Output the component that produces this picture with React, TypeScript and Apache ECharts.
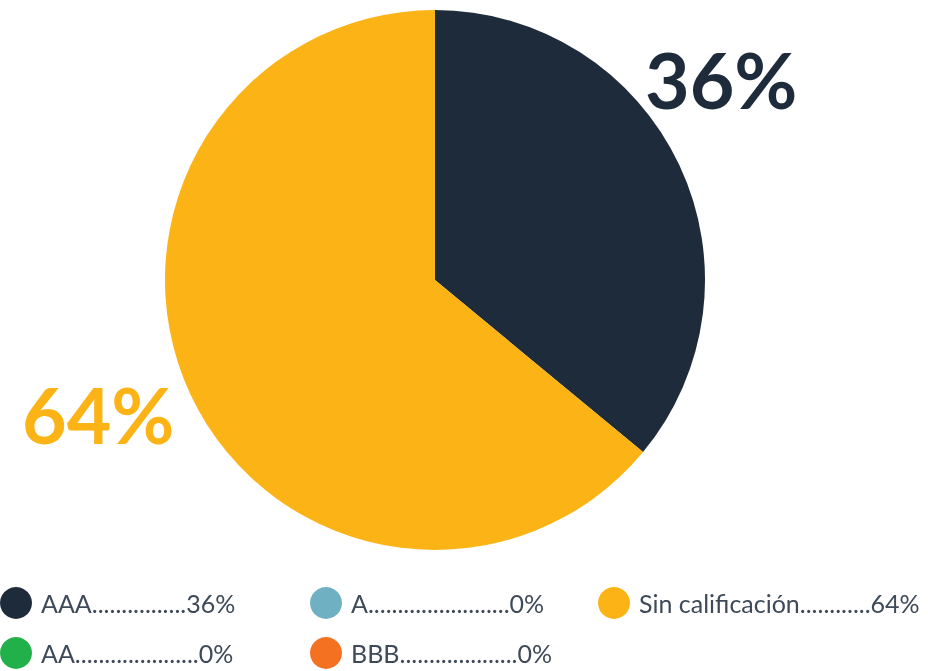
import React, { useEffect, useRef } from "react";
import * as echarts from "echarts";

const categories = ["AAA", "AA", "A", "BBB", "Sin calificación"];
const values = [36, 0, 0, 0, 64];
const colors = ["#1d2b3b", "#22b04b", "#6fb1c2", "#f37121", "#fbb316"];
const dotCounts = [16, 21, 24, 20, 12];
const legendColumns = [
  ["AAA", "AA"],
  ["A", "BBB"],
  ["Sin calificación"],
];
const legendLefts = [0, 310, 598];

export default function App() {
  const ref = useRef<HTMLDivElement>(null);
  useEffect(() => {
    if (!ref.current) return;
    const chart = echarts.init(ref.current, undefined, { renderer: "svg" });
    const fmt = (name: string) => {
      const i = categories.indexOf(name);
      return name + ".".repeat(dotCounts[i]) + values[i] + "%";
    };
    const bigLabel = (i: number) => values[i] + "%";
    chart.setOption({
      animation: false,
      color: colors,
      legend: legendColumns.map((col, k) => ({
        data: col,
        orient: "vertical",
        left: legendLefts[k],
        top: 587,
        padding: 0,
        itemWidth: 32,
        itemHeight: 32,
        itemGap: 18,
        icon: "circle",
        selectedMode: false,
        formatter: fmt,
        textStyle: {
          fontFamily: "Lato",
          fontSize: 25,
          color: "#3e4a59",
          padding: [0, 0, 0, 4],
        },
      })),
      graphic: [
        {
          type: "text",
          left: 645,
          top: 40,
          style: {
            text: bigLabel(0),
            font: "bold 77px Lato",
            fill: colors[0],
          },
        },
        {
          type: "text",
          left: 22,
          top: 375,
          style: {
            text: bigLabel(4),
            font: "bold 77px Lato",
            fill: colors[4],
          },
        },
      ],
      series: [
        {
          type: "pie",
          center: [435, 280],
          radius: 270,
          startAngle: 90,
          clockwise: true,
          label: { show: false },
          labelLine: { show: false },
          emphasis: { disabled: true },
          data: categories.map((c, i) => ({ name: c, value: values[i] })),
        },
      ],
    });
    return () => chart.dispose();
  }, []);
  return (
    <div
      ref={ref}
      style={{ position: "fixed", left: 0, top: 0, width: 928, height: 671 }}
    />
  );
}
